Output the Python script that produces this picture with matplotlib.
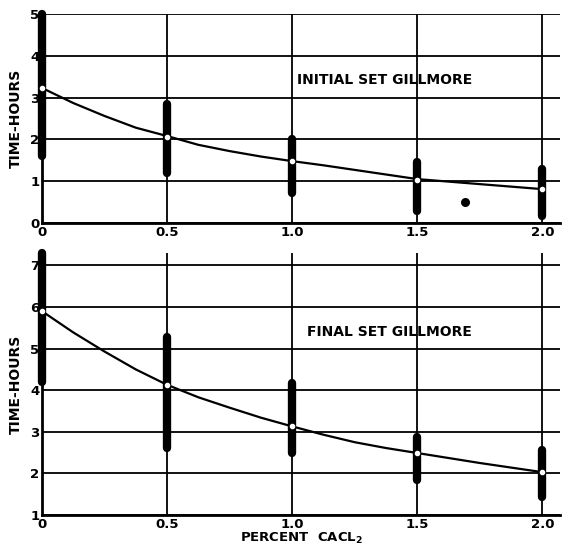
# Two Gillmore set-time panels vs percent CaCl2
import matplotlib
matplotlib.use('Agg')
import matplotlib.pyplot as plt

# data
pct = [0, 0.5, 1.0, 1.5, 2.0]

init_low = [1.6, 1.2, 0.72, 0.29, 0.17]
init_high = [5.0, 2.85, 2.0, 1.46, 1.29]
init_mean = [3.22, 2.06, 1.48, 1.04, 0.81]
init_odd_x = [1.69]
init_odd_y = [0.5]

final_low = [4.2, 2.61, 2.5, 1.84, 1.43]
final_high = [7.3, 5.27, 4.17, 2.87, 2.56]
final_mean = [5.9, 4.13, 3.13, 2.49, 2.03]

curve_x = [0, 0.125, 0.25, 0.375, 0.5, 0.625, 0.75, 0.875, 1.0,
           1.125, 1.25, 1.375, 1.5, 1.625, 1.75, 1.875, 2.0]
init_curve = [3.23, 2.87, 2.56, 2.28, 2.08, 1.87, 1.72, 1.59, 1.48,
              1.38, 1.27, 1.16, 1.05, 0.99, 0.93, 0.87, 0.81]
final_curve = [5.9, 5.39, 4.93, 4.50, 4.13, 3.83, 3.58, 3.34, 3.13,
               2.93, 2.75, 2.61, 2.49, 2.37, 2.25, 2.14, 2.03]

xticks = [0, 0.5, 1.0, 1.5, 2.0]
xlabels = ['0', '0.5', '1.0', '1.5', '2.0']

fig = plt.figure(figsize=(5.63, 5.51), dpi=100)
W, H = 563, 551

def make_ax(left, top, right, bottom):
    return fig.add_axes([left / W, 1 - bottom / H, (right - left) / W, (bottom - top) / H])

def style(ax, ylo, yhi, yticks):
    ax.set_xlim(0, 2.07)
    ax.set_ylim(ylo, yhi)
    ax.set_xticks(xticks)
    ax.set_xticklabels(xlabels)
    ax.set_yticks(yticks)
    ax.tick_params(length=0, labelsize=9.5, pad=2)
    for lab in ax.get_xticklabels() + ax.get_yticklabels():
        lab.set_fontweight('bold')
    ax.grid(True, color='black', linewidth=1.3)
    ax.set_axisbelow(True)
    ax.spines['top'].set_visible(False)
    ax.spines['right'].set_visible(False)
    ax.spines['left'].set_linewidth(2)
    ax.spines['bottom'].set_linewidth(2)
    ax.set_ylabel('TIME-HOURS', fontsize=10, fontweight='bold', labelpad=5)

def draw(ax, low, high, mean, cy):
    ax.plot(curve_x, cy, color='black', linewidth=1.6, zorder=3)
    lc = ax.vlines(pct, low, high, color='black', linewidth=6, zorder=4, clip_on=False)
    lc.set_capstyle('round')
    ax.scatter(pct, mean, s=9, color='white', zorder=5, clip_on=False)

# panel superior
ax1 = make_ax(42, 14, 560, 223)
style(ax1, 0, 5, [0, 1, 2, 3, 4, 5])
draw(ax1, init_low, init_high, init_mean, init_curve)
ax1.scatter(init_odd_x, init_odd_y, s=30, color='black', marker='o', zorder=5)
ax1.text(1.02, 3.42, 'INITIAL SET GILLMORE', fontsize=10, fontweight='bold',
         va='center', ha='left')

# panel inferior
ax2 = make_ax(42, 253, 560, 515)
style(ax2, 1, 7.3, [1, 2, 3, 4, 5, 6, 7])
draw(ax2, final_low, final_high, final_mean, final_curve)
ax2.text(1.06, 5.39, 'FINAL SET GILLMORE', fontsize=10, fontweight='bold',
         va='center', ha='left')
ax2.set_xlabel('PERCENT  CACL$_\\mathbf{2}$', fontsize=9.5, fontweight='bold', labelpad=0)

fig.savefig('out.png', dpi=100)
